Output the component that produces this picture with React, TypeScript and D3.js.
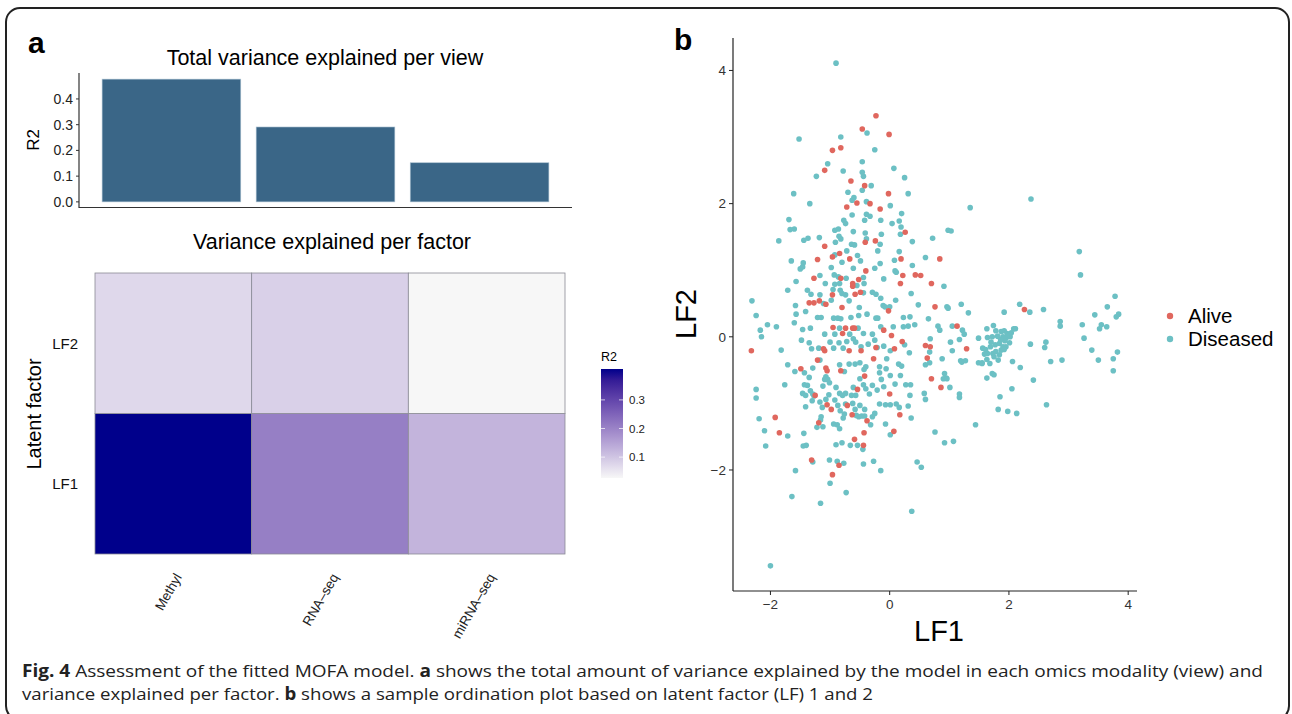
import React from "react";
import * as d3 from "d3";

// panel a, top: total R2 per view
const views = ["Methyl", "RNA-seq", "miRNA-seq"];
const viewLabels = ["Methyl", "RNA–seq", "miRNA–seq"];
const totalR2 = [0.477, 0.291, 0.152];
const barTicks = [0, 0.1, 0.2, 0.3, 0.4];

// panel a, bottom: R2 per factor and view
const factors = ["LF2", "LF1"];
const r2LF1 = [0.408, 0.207, 0.125];
const r2LF2 = [0.072, 0.084, 0.027];
const legendTicks = [0.1, 0.2, 0.3];

// panel b: sample ordination (LF1, LF2)
const alive: [number, number][] = [
  [-0.23, 3.32], [-0.46, 3.12], [-0.01, 3.04], [-0.82, 2.84], [-0.96, 2.8], [-1.09, 2.5], [-0.65, 2.34],
  [-0.42, 2.27], [-0.02, 2.15], [-0.55, 2.01], [-0.33, 2.0], [-0.72, 1.95], [-0.16, 1.92], [0.26, 1.57],
  [-0.24, 1.44], [-0.41, 1.42], [-1.09, 1.36], [-0.84, 1.25], [-1.21, 1.16], [-0.96, 1.2], [-0.67, 1.17],
  [0.84, 1.17], [0.19, 1.17], [-0.4, 0.99], [-1.27, 0.88], [-0.52, 0.86], [-0.82, 0.88], [0.22, 0.92],
  [0.43, 0.93], [0.52, 0.92], [-0.62, 0.8], [-0.62, 0.76], [0.18, 0.8], [0.7, 0.8], [-0.58, 0.64],
  [-0.49, 0.67], [-0.96, 0.63], [-1.35, 0.51], [-1.27, 0.51], [-1.18, 0.54], [-1.07, 0.49], [0.76, 0.45],
  [2.26, 0.41], [-0.8, 0.44], [-0.02, 0.39], [-0.95, 0.14], [-0.74, 0.13], [-0.62, 0.13], [-0.59, 0.13],
  [-0.79, 0.05], [-0.1, 0.1], [1.13, 0.16], [-2.32, -0.21], [-1.09, -0.21], [-1.11, -0.18], [-0.68, -0.21],
  [-0.48, -0.21], [-0.23, -0.16], [0.21, -0.07], [0.08, -0.18], [0.6, -0.13], [0.68, -0.15], [1.29, -0.18],
  [-1.21, -0.35], [-1.07, -0.47], [-1.05, -0.51], [-0.82, -0.51], [-0.42, -0.59], [-0.27, -0.33],
  [0.63, -0.32], [-1.49, -0.48], [-1.25, -0.88], [-0.54, -0.79], [0.0, -0.86], [0.7, -0.63], [0.86, -0.76],
  [-1.92, -1.21], [-1.05, -1.02], [-0.98, -1.09], [-0.71, -1.03], [-1.19, -1.29], [-0.63, -1.17],
  [0.17, -1.17], [-0.38, -1.26], [-1.85, -1.44], [-0.59, -1.54], [-0.43, -1.44], [0.07, -1.42],
  [-0.44, -1.63], [-1.31, -1.85], [-0.85, -1.93], [-0.96, -2.07], [0.03, 0.02],
];

const diseased: [number, number][] = [
  [-0.9, 4.11], [-0.38, 3.06], [-1.52, 2.97], [-0.82, 3.0], [-0.25, 2.81], [-0.46, 2.63], [-1.04, 2.6],
  [0.07, 2.53], [-0.78, 2.49], [-0.46, 2.47], [-1.23, 2.41], [-0.44, 2.41], [0.25, 2.39], [-0.31, 2.27],
  [-0.46, 2.2], [-0.7, 2.17], [-1.61, 2.15], [0.31, 2.15], [-0.6, 2.09], [-0.63, 2.05], [-1.34, 2.0],
  [-0.39, 2.03], [0.01, 1.97], [1.35, 1.94], [2.37, 2.07], [-0.63, 1.83], [-0.39, 1.84], [-0.33, 1.81],
  [0.2, 1.85], [-1.69, 1.76], [-0.77, 1.75], [-0.42, 1.75], [-0.15, 1.75], [0.04, 1.7], [0.16, 1.74],
  [-0.74, 1.7], [-1.67, 1.61], [-1.6, 1.62], [-0.92, 1.6], [-0.86, 1.62], [0.19, 1.65], [-0.61, 1.58],
  [-0.41, 1.56], [-0.14, 1.54], [0.18, 1.54], [0.98, 1.6], [1.03, 1.59], [-1.37, 1.48], [-1.18, 1.49],
  [-0.85, 1.51], [-0.82, 1.47], [-0.39, 1.47], [0.72, 1.48], [-1.86, 1.44], [-1.44, 1.45], [-0.91, 1.42],
  [0.38, 1.43], [-0.64, 1.39], [-0.59, 1.38], [-0.16, 1.39], [-0.72, 1.29], [-0.2, 1.29], [0.16, 1.28],
  [-0.92, 1.23], [-0.54, 1.22], [0.6, 1.19], [-1.65, 1.14], [-1.45, 1.11], [-0.8, 1.12], [-0.49, 1.14],
  [-0.16, 1.1], [0.08, 1.15], [0.38, 1.07], [-1.5, 1.02], [-1.46, 1.05], [-0.98, 1.04], [-0.61, 1.03],
  [-0.25, 1.03], [0.09, 0.99], [0.11, 0.97], [-1.17, 0.92], [-0.93, 0.93], [-0.86, 0.9], [-0.73, 0.88],
  [-0.44, 0.89], [-0.1, 0.87], [-1.57, 0.83], [-1.08, 0.8], [-0.55, 0.77], [-0.92, 0.79], [-0.84, 0.8],
  [-0.43, 0.8], [0.91, 0.76], [-1.38, 0.7], [-1.71, 0.7], [-0.95, 0.71], [-0.8, 0.65], [-0.83, 0.7],
  [-0.44, 0.66], [-0.29, 0.67], [-1.32, 0.64], [-1.17, 0.63], [-0.74, 0.63], [-0.23, 0.64], [0.36, 0.65],
  [0.1, 0.55], [0.48, 0.48], [-0.15, 0.58], [-2.31, 0.54], [-0.98, 0.55], [-0.68, 0.54], [-1.11, 0.5],
  [-1.58, 0.47], [-0.11, 0.47], [-0.08, 0.45], [0.96, 0.45], [0.98, 0.43], [1.2, 0.49], [-0.51, 0.44],
  [0.0, 0.45], [-2.24, 0.32], [-1.57, 0.34], [-1.41, 0.38], [-0.94, 0.28], [-0.87, 0.28], [-0.82, 0.27],
  [-1.21, 0.29], [-1.15, 0.29], [-0.65, 0.29], [-0.23, 0.28], [-0.2, 0.28], [-0.52, 0.32], [-0.38, 0.34],
  [0.34, 0.3], [0.23, 0.29], [0.65, 0.27], [1.32, 0.36],
  // right-hand group
  [3.18, 1.28], [3.2, 0.93], [3.78, 0.61], [3.65, 0.45], [3.44, 0.33], [3.8, 0.3], [3.84, 0.34],
  [3.23, 0.18], [3.55, 0.18], [3.64, 0.15], [3.52, 0.12], [3.26, -0.02], [3.39, -0.2], [3.82, -0.23],
  [3.5, -0.35], [3.75, -0.33], [3.75, -0.51], [2.86, 0.23], [2.86, 0.16], [2.35, 0.37], [2.18, 0.49],
  [2.36, -0.11], [2.62, -0.08], [2.6, -0.16], [2.7, -0.37], [2.89, -0.35], [2.41, -0.65], [2.05, -0.78],
  [1.85, -0.9], [1.82, -1.09], [1.98, -1.12], [2.13, -1.15], [2.63, -1.02], [2.58, 0.41], [1.92, 0.37],
  // dense cluster near LF1 = 2
  [1.63, 0.12], [1.74, 0.17], [1.78, 0.09], [1.87, 0.08], [1.92, 0.09], [1.97, 0.05], [2.02, 0.0],
  [2.08, 0.12], [2.11, 0.12], [1.64, -0.01], [1.72, 0.0], [1.81, 0.01], [1.9, 0.0], [1.95, -0.02],
  [2.01, -0.09], [1.56, -0.17], [1.61, -0.19], [1.69, -0.15], [1.77, -0.12], [1.84, -0.1], [1.9, -0.15],
  [1.95, -0.15], [1.64, -0.25], [1.73, -0.25], [1.78, -0.22], [1.87, -0.2], [1.92, -0.19], [1.55, -0.39],
  [1.63, -0.34], [1.68, -0.4], [1.75, -0.3], [1.82, -0.35], [1.84, -0.27], [2.06, -0.37], [2.19, -0.46],
  [1.72, -0.55], [1.63, -0.62], [1.98, 0.03], [1.93, -0.06], [1.86, -0.04], [1.7, -0.08], [2.04, 0.06],
  // lower half
  [-2.05, 0.18], [-1.9, 0.15], [-2.17, 0.1], [-2.15, 0.0], [-1.6, 0.21], [-1.46, 0.11], [-1.33, 0.13],
  [-0.84, 0.13], [-0.53, 0.13], [-1.09, 0.04], [-0.92, 0.04], [-0.67, 0.04], [-0.44, 0.05], [-0.29, 0.04],
  [-0.15, 0.15], [0.06, 0.15], [0.23, 0.15], [0.31, 0.16], [0.42, 0.18], [0.81, 0.16], [1.05, 0.16],
  [1.22, 0.1], [0.84, 0.1], [0.68, -0.03], [1.02, -0.08], [1.17, -0.04], [1.25, 0.04], [1.49, -0.02],
  [-1.82, -0.2], [-1.48, -0.05], [-1.35, -0.09], [-1.31, -0.18], [-1.19, -0.17], [-1.17, -0.35],
  [-1.0, -0.08], [-0.94, -0.17], [-0.85, -0.09], [-0.78, -0.17], [-0.72, -0.07], [-0.61, -0.03],
  [-0.57, -0.08], [-0.48, -0.15], [-0.36, -0.11], [-0.25, -0.05], [-0.21, -0.16], [-0.1, -0.14],
  [0.01, -0.21], [0.25, -0.12], [0.33, -0.24], [0.67, -0.23], [1.05, -0.21], [1.19, -0.36], [1.59, -0.26],
  [-1.71, -0.42], [-1.59, -0.52], [-1.43, -0.54], [-1.29, -0.47], [-1.35, -0.61], [-1.07, -0.6],
  [-1.04, -0.64], [-1.01, -0.69], [-1.09, -0.64], [-0.84, -0.42], [-0.76, -0.52], [-0.68, -0.41],
  [-0.58, -0.41], [-0.5, -0.39], [-0.43, -0.49], [-0.4, -0.45], [-0.05, -0.33], [-0.17, -0.45],
  [-0.06, -0.48], [-0.17, -0.54], [0.15, -0.41], [0.2, -0.44], [0.6, -0.42], [0.67, -0.39], [0.88, -0.33],
  [0.92, -0.55], [0.95, -0.62], [1.21, -0.38], [1.27, -0.36], [1.49, -0.39], [1.55, -0.4], [1.75, -0.57],
  [-1.76, -0.72], [-2.24, -0.79], [-2.24, -0.92], [-1.43, -0.72], [-1.38, -0.73], [-1.33, -0.81],
  [-1.29, -0.86], [-1.46, -0.85], [-1.41, -0.88], [-1.27, -0.89], [-1.12, -0.74], [-1.02, -0.87],
  [-0.9, -0.76], [-0.84, -0.85], [-0.79, -0.88], [-0.74, -0.85], [-0.64, -0.88], [-0.61, -0.76],
  [-0.57, -0.88], [-0.5, -0.63], [-0.44, -0.72], [-0.4, -0.78], [-0.34, -0.86], [-0.29, -0.73],
  [-0.21, -0.8], [-0.14, -0.64], [0.01, -0.58], [-0.1, -0.75], [0.09, -0.71], [0.27, -0.72], [0.35, -0.72],
  [0.18, -0.58], [0.9, -0.63], [0.96, -0.63], [1.01, -0.76], [1.17, -0.86], [1.17, -0.91], [0.58, -0.85],
  [0.6, -0.94], [0.34, -0.88], [-2.19, -1.23], [-1.41, -1.05], [-1.3, -0.96], [-1.17, -0.98],
  [-1.13, -1.06], [-1.07, -0.94], [-0.92, -0.95], [-0.87, -1.03], [-0.83, -1.11], [-0.74, -1.01],
  [-0.62, -1.0], [-0.58, -1.09], [-0.5, -1.03], [-0.42, -1.09], [-0.25, -1.15], [-0.17, -1.01],
  [-0.07, -1.02], [0.01, -1.02], [0.11, -1.01], [0.16, -1.06], [0.31, -1.04], [-1.15, -1.2],
  [-1.16, -1.25], [-0.76, -1.16], [-0.78, -1.22], [-0.88, -1.32], [-0.84, -1.38], [-0.56, -1.18],
  [-0.52, -1.2], [-0.47, -1.19], [-0.42, -1.19], [-0.29, -1.2], [0.36, -1.22], [-0.32, -1.32],
  [-0.07, -1.31], [-2.1, -1.41], [-1.71, -1.49], [-1.44, -1.45], [-1.22, -1.36], [-1.12, -1.35],
  [-0.94, -1.31], [-2.08, -1.64], [0.01, -1.47], [-0.9, -1.62], [-0.8, -1.59], [-0.66, -1.63],
  [-0.54, -1.63], [-0.45, -1.69], [-1.45, -1.64], [-1.4, -1.63], [1.44, -1.32], [1.07, -1.57],
  [0.92, -1.59], [0.76, -1.43], [-1.58, -2.01], [-1.29, -1.88], [-1.01, -1.85], [-0.88, -1.87],
  [-0.77, -1.9], [-0.44, -1.91], [-0.27, -1.87], [-0.15, -2.01], [0.46, -1.88], [0.53, -1.96],
  [-1.0, -2.2], [-0.73, -2.34], [-1.64, -2.4], [-1.16, -2.5], [0.37, -2.62], [-2.0, -3.44],
];

const groups = ["Alive", "Diseased"];
const groupColors = ["#E0675E", "#6CC0C4"];
const scatterTicks = [-2, 0, 2, 4];

const FONT = "'Liberation Sans', Arial, Helvetica, sans-serif";

// ggplot-like 5% expansion of a continuous range
const expand = (lo: number, hi: number) => {
  const pad = (hi - lo) * 0.05;
  return [lo - pad, hi + pad];
};

const App: React.FC = () => {
  // ---- bar chart ----
  const barX = d3.scaleBand().domain(views).range([79, 572]).paddingInner(0.1).paddingOuter(0.15);
  const barMax = d3.max(totalR2) as number;
  const barY = d3.scaleLinear().domain([-barMax * 0.05, barMax * 1.05]).range([208, 73]);

  // ---- heatmap ----
  const hmX = d3.scaleBand().domain(views).range([95, 565]);
  const hmY = d3.scaleBand().domain(factors).range([273, 554]);
  const allR2 = [...r2LF1, ...r2LF2];
  const r2Min = d3.min(allR2) as number;
  const r2Max = d3.max(allR2) as number;
  const fill = d3
    .scaleLinear<string>()
    .domain([r2Min, r2Max])
    .range(["#f7f7f7", "#00008b"])
    .interpolate(d3.interpolateLab);
  const cells = [
    ...views.map((v, i) => ({ view: v, factor: "LF1", r2: r2LF1[i] })),
    ...views.map((v, i) => ({ view: v, factor: "LF2", r2: r2LF2[i] })),
  ];
  const legY = d3.scaleLinear().domain([r2Min, r2Max]).range([478, 369]);
  const gradStops = d3.range(0, 1.0001, 0.1);

  // ---- scatter ----
  const allPts = [...alive, ...diseased];
  const [xLo, xHi] = d3.extent(allPts, (d) => d[0]) as [number, number];
  const [yLo, yHi] = d3.extent(allPts, (d) => d[1]) as [number, number];
  const sx = d3.scaleLinear().domain(expand(xLo, xHi)).range([733, 1137]);
  const sy = d3.scaleLinear().domain(expand(yLo, yHi)).range([591, 38]);
  const fmtTick = (v: number) => (v < 0 ? "\u2212" + Math.abs(v) : String(v));

  return (
    <svg
      width={1292}
      height={714}
      style={{ position: "absolute", left: 0, top: 0, background: "#fff" }}
      fontFamily={FONT}
    >
      <rect x={6} y={8} width={1283} height={712} rx={14} fill="none" stroke="#222" strokeWidth={2} />

      {/* panel a */}
      <text x={28} y={53} fontSize={30} fontWeight="bold" fontFamily="Arial, 'Liberation Sans', sans-serif">
        a
      </text>
      <text x={325} y={65} fontSize={21.5} textAnchor="middle">
        Total variance explained per view
      </text>
      {views.map((v, i) => (
        <rect
          key={v}
          x={barX(v)}
          y={barY(totalR2[i])}
          width={barX.bandwidth()}
          height={barY(0) - barY(totalR2[i])}
          fill="#3A6687"
          stroke="#a9bfd0"
          strokeWidth={0.6}
        />
      ))}
      <line x1={79} x2={79} y1={73} y2={208} stroke="#333" strokeWidth={1.2} />
      <line x1={79} x2={572} y1={207.5} y2={207.5} stroke="#333" strokeWidth={1.2} />
      {barTicks.map((t) => (
        <g key={t}>
          <line x1={76} x2={79} y1={barY(t)} y2={barY(t)} stroke="#333" />
          <text x={73} y={barY(t)} dy="0.35em" fontSize={14} textAnchor="end" fill="#222">
            {t.toFixed(1)}
          </text>
        </g>
      ))}
      <text transform="translate(39,140) rotate(-90)" fontSize={17} textAnchor="middle">
        R2
      </text>

      <text x={332} y={249} fontSize={21.5} textAnchor="middle">
        Variance explained per factor
      </text>
      {cells.map((c) => (
        <rect
          key={c.view + c.factor}
          x={hmX(c.view)}
          y={hmY(c.factor)}
          width={hmX.bandwidth()}
          height={hmY.bandwidth()}
          fill={fill(c.r2)}
          stroke="#8a8a95"
          strokeWidth={0.8}
        />
      ))}
      {factors.map((f) => (
        <text
          key={f}
          x={78}
          y={(hmY(f) as number) + hmY.bandwidth() / 2}
          dy="0.35em"
          fontSize={15}
          textAnchor="end"
          fill="#111"
        >
          {f}
        </text>
      ))}
      {views.map((v, i) => (
        <text
          key={v}
          transform={`translate(${(hmX(v) as number) + hmX.bandwidth() / 2 + 9},${577}) rotate(-60)`}
          fontSize={13.5}
          textAnchor="end"
          fill="#222"
        >
          {viewLabels[i]}
        </text>
      ))}
      <text transform="translate(41,414) rotate(-90)" fontSize={20} textAnchor="middle">
        Latent factor
      </text>

      {/* colour legend */}
      <defs>
        <linearGradient id="r2grad" x1="0" y1="1" x2="0" y2="0">
          {gradStops.map((s) => (
            <stop key={s} offset={s} stopColor={fill(r2Min + s * (r2Max - r2Min))} />
          ))}
        </linearGradient>
      </defs>
      <text x={601} y={361} fontSize={12.5}>
        R2
      </text>
      <rect x={601} y={369} width={22} height={109} fill="url(#r2grad)" />
      {legendTicks.map((t) => (
        <g key={t}>
          <line x1={601} x2={605} y1={legY(t)} y2={legY(t)} stroke="#fff" strokeOpacity={0.7} />
          <line x1={619} x2={623} y1={legY(t)} y2={legY(t)} stroke="#fff" strokeOpacity={0.7} />
          <text x={629} y={legY(t)} dy="0.35em" fontSize={11.5} fill="#222">
            {t.toFixed(1)}
          </text>
        </g>
      ))}

      {/* panel b */}
      <text x={674} y={50} fontSize={30} fontWeight="bold" fontFamily="Arial, 'Liberation Sans', sans-serif">
        b
      </text>
      {diseased.map((d, i) => (
        <circle key={"d" + i} cx={sx(d[0])} cy={sy(d[1])} r={2.8} fill={groupColors[1]} />
      ))}
      {alive.map((d, i) => (
        <circle key={"a" + i} cx={sx(d[0])} cy={sy(d[1])} r={2.8} fill={groupColors[0]} />
      ))}
      <line x1={733} x2={733} y1={38} y2={591} stroke="#222" strokeWidth={1.2} />
      <line x1={733} x2={1137} y1={591} y2={591} stroke="#222" strokeWidth={1.2} />
      {scatterTicks.map((t) => (
        <g key={"x" + t}>
          <line x1={sx(t)} x2={sx(t)} y1={591} y2={595} stroke="#222" />
          <text x={sx(t)} y={609} fontSize={13.5} textAnchor="middle" fill="#333">
            {fmtTick(t)}
          </text>
        </g>
      ))}
      {scatterTicks.map((t) => (
        <g key={"y" + t}>
          <line x1={729} x2={733} y1={sy(t)} y2={sy(t)} stroke="#222" />
          <text x={726} y={sy(t)} dy="0.35em" fontSize={13.5} textAnchor="end" fill="#333">
            {fmtTick(t)}
          </text>
        </g>
      ))}
      <text x={939} y={641} fontSize={29} textAnchor="middle">
        LF1
      </text>
      <text transform="translate(696,314) rotate(-90)" fontSize={29} textAnchor="middle">
        LF2
      </text>
      {groups.map((g, i) => (
        <g key={g}>
          <circle cx={1170} cy={316 + i * 23} r={3.2} fill={groupColors[i]} />
          <text x={1188} y={316 + i * 23} dy="0.36em" fontSize={20.5}>
            {g}
          </text>
        </g>
      ))}

      {/* caption */}
      <text
        x={22}
        y={677}
        fontSize={17}
        fontFamily="'Open Sans', sans-serif"
        textLength={1241}
        lengthAdjust="spacingAndGlyphs"
        fill="#222"
      >
        <tspan fontWeight="bold">Fig. 4</tspan> Assessment of the fitted MOFA model.{" "}
        <tspan fontWeight="bold">a</tspan> shows the total amount of variance explained by the model in each omics
        modality (view) and
      </text>
      <text
        x={22}
        y={700}
        fontSize={17}
        fontFamily="'Open Sans', sans-serif"
        textLength={851}
        lengthAdjust="spacingAndGlyphs"
        fill="#222"
      >
        variance explained per factor. <tspan fontWeight="bold">b</tspan> shows a sample ordination plot based on
        latent factor (LF) 1 and 2
      </text>
    </svg>
  );
};

export default App;
